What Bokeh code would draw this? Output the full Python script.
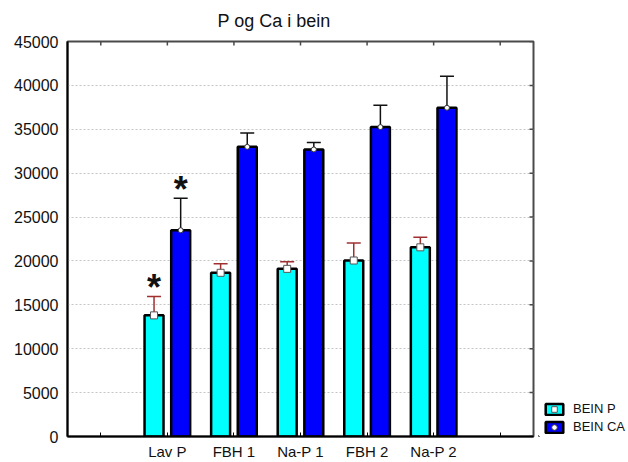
import math
from bokeh.plotting import figure
from bokeh.layouts import row
from bokeh.models import (Range1d, FixedTicker, Whisker, TeeHead,
                          ColumnDataSource, Legend, LegendItem)
from bokeh.core.properties import value
from bokeh.embed import file_html
from bokeh.resources import INLINE

# Bone phosphorus and calcium per diet group (mean +/- error)
groups = ["Lav P", "FBH 1", "Na-P 1", "FBH 2", "Na-P 2"]
bein_p = [13800, 18650, 19100, 20050, 21550]
bein_p_err = [2150, 1020, 820, 2000, 1150]
bein_ca = [23500, 33000, 32700, 35250, 37450]
bein_ca_err = [3650, 1580, 800, 2500, 3600]
sig_p = [True, False, False, False, False]
sig_ca = [True, False, False, False, False]
series_names = ["BEIN P", "BEIN CA"]
y_ticks = list(range(0, 45001, 5000))

FONT = "Liberation Sans"
CYAN = "#00ffff"
BLUE = "#0000ff"
FRAME_GREY = "#4a4a4a"
BAR_LINE = 2.5

# category slots: one blank slot on each side of the groups
slots = list(range(1, len(groups) + 3))
centers = [i + 2 for i in range(len(groups))]
shift = 0.2
bar_w = 0.285

src = ColumnDataSource(dict(
    xp=[c - shift for c in centers],
    xc=[c + shift for c in centers],
    p=bein_p,
    p_lo=[m - e for m, e in zip(bein_p, bein_p_err)],
    p_hi=[m + e for m, e in zip(bein_p, bein_p_err)],
    ca=bein_ca,
    ca_lo=[m - e for m, e in zip(bein_ca, bein_ca_err)],
    ca_hi=[m + e for m, e in zip(bein_ca, bein_ca_err)],
))

x_lo, x_hi = 0.5, len(slots) + 0.5
y_lo, y_hi = 0, 45000

p = figure(width=538, height=462, output_backend="svg", toolbar_location=None,
           x_range=Range1d(x_lo, x_hi), y_range=Range1d(y_lo, y_hi),
           min_border_left=67, min_border_right=5, min_border_top=41,
           min_border_bottom=25)
p.background_fill_color = "white"
p.border_fill_color = "white"
p.outline_line_color = FRAME_GREY
p.outline_line_width = 2

p.title.text = "P og Ca i bein"
p.title.text_font = FONT
p.title.text_font_size = "18px"
p.title.text_font_style = "normal"
p.title.text_color = "#111111"
p.title.align = "left"
p.title.offset = 150
p.title.vertical_align = "top"
p.title.standoff = 18

# bottom axis with group names
xa = p.xaxis[0]
xa.ticker = FixedTicker(ticks=slots)
labels = {s: "" for s in slots}
for c, g in zip(centers, groups):
    labels[c] = g
xa.major_label_overrides = labels
xa.major_label_text_font = FONT
xa.major_label_text_font_size = "15px"
xa.major_label_text_color = "#111111"
xa.major_label_standoff = 6
xa.major_tick_in = 4
xa.major_tick_out = 0
xa.major_tick_line_color = "black"
xa.minor_tick_line_color = None
xa.axis_line_color = "black"
xa.axis_line_width = 2

ya = p.yaxis[0]
ya.ticker = FixedTicker(ticks=y_ticks)
ya.major_label_text_font = FONT
ya.major_label_text_font_size = "16px"
ya.major_label_text_color = "#111111"
ya.major_label_standoff = 9
ya.major_tick_in = 0
ya.major_tick_out = 0
ya.minor_tick_line_color = None
ya.axis_line_color = "black"
ya.axis_line_width = 2

p.xgrid.visible = False
p.ygrid.grid_line_color = "#c4c4c4"
p.ygrid.grid_line_dash = "2 2"
p.ygrid.grid_line_width = 1

# short inward ticks along the top and right frame edges
p.ray(x=slots, y=[y_hi] * len(slots), length=4, length_units="screen",
      angle=-math.pi / 2, line_color=FRAME_GREY, line_width=1.5)
p.ray(x=[x_hi] * len(y_ticks), y=y_ticks, length=4, length_units="screen",
      angle=math.pi, line_color=FRAME_GREY, line_width=1.5)

p.vbar(x="xp", top="p", bottom=0, width=bar_w, source=src,
       fill_color=CYAN, line_color="black", line_width=BAR_LINE)
p.vbar(x="xc", top="ca", bottom=0, width=bar_w, source=src,
       fill_color=BLUE, line_color="black", line_width=BAR_LINE)

err_p = Whisker(source=src, base="xp", lower="p_lo", upper="p_hi",
                line_color="#a03030", line_width=1.5,
                upper_head=TeeHead(size=14, line_color="#a03030", line_width=1.5),
                lower_head=TeeHead(size=14, line_color="#a03030", line_width=1.5))
err_ca = Whisker(source=src, base="xc", lower="ca_lo", upper="ca_hi",
                 line_color="#111111", line_width=1.5,
                 upper_head=TeeHead(size=14, line_color="#111111", line_width=1.5),
                 lower_head=TeeHead(size=14, line_color="#111111", line_width=1.5))
p.add_layout(err_p)
p.add_layout(err_ca)

p.scatter(x="xp", y="p", source=src, marker="square", size=7,
          fill_color="white", line_color="#555555", line_width=1, level="overlay")
p.scatter(x="xc", y="ca", source=src, marker="circle", size=5,
          fill_color="white", line_color="#333333", line_width=1, level="overlay")

# significance stars above the upper error bar
star_gap = 1000
star_x, star_y = [], []
for c, m, e, s in zip(centers, bein_p, bein_p_err, sig_p):
    if s:
        star_x.append(c - shift)
        star_y.append(m + e + star_gap)
for c, m, e, s in zip(centers, bein_ca, bein_ca_err, sig_ca):
    if s:
        star_x.append(c + shift)
        star_y.append(m + e + star_gap)
p.text(x=star_x, y=star_y, text=["*"] * len(star_x), text_font=value(FONT),
       text_font_style="bold", text_font_size="36px", text_align="center",
       text_baseline="middle", text_color="#111111")

# legend strip to the right of the chart; its proxy glyphs sit outside the view
leg = figure(width=90, height=462, output_backend="svg", toolbar_location=None,
             x_axis_type=None, y_axis_type=None,
             x_range=Range1d(0, 1), y_range=Range1d(0, 1),
             min_border_left=0, min_border_right=0, min_border_top=0,
             min_border_bottom=0)
leg.outline_line_color = None
leg.background_fill_color = "white"
leg.border_fill_color = "white"
leg.grid.visible = False
off = [-5]
sw_p = leg.vbar(x=off, top=off, bottom=off, width=0.1, fill_color=CYAN,
                line_color="black", line_width=BAR_LINE)
mk_p = leg.scatter(x=off, y=off, marker="square", size=7, fill_color="white",
                   line_color="#555555", line_width=1)
sw_c = leg.vbar(x=off, top=off, bottom=off, width=0.1, fill_color=BLUE,
                line_color="black", line_width=BAR_LINE)
mk_c = leg.scatter(x=off, y=off, marker="circle", size=5, fill_color="white",
                   line_color="#333333", line_width=1)
legend = Legend(items=[LegendItem(label=series_names[0], renderers=[sw_p, mk_p]),
                       LegendItem(label=series_names[1], renderers=[sw_c, mk_c])],
                location=(5, 2), padding=0, spacing=3, margin=0,
                glyph_width=22, glyph_height=14, label_height=14, label_standoff=8,
                label_text_font=FONT, label_text_font_size="13px",
                label_text_color="#111111",
                border_line_color=None, background_fill_alpha=0)
leg.add_layout(legend)

layout = row(p, leg, spacing=0)
open("out.html", "w").write(file_html(layout, INLINE))
